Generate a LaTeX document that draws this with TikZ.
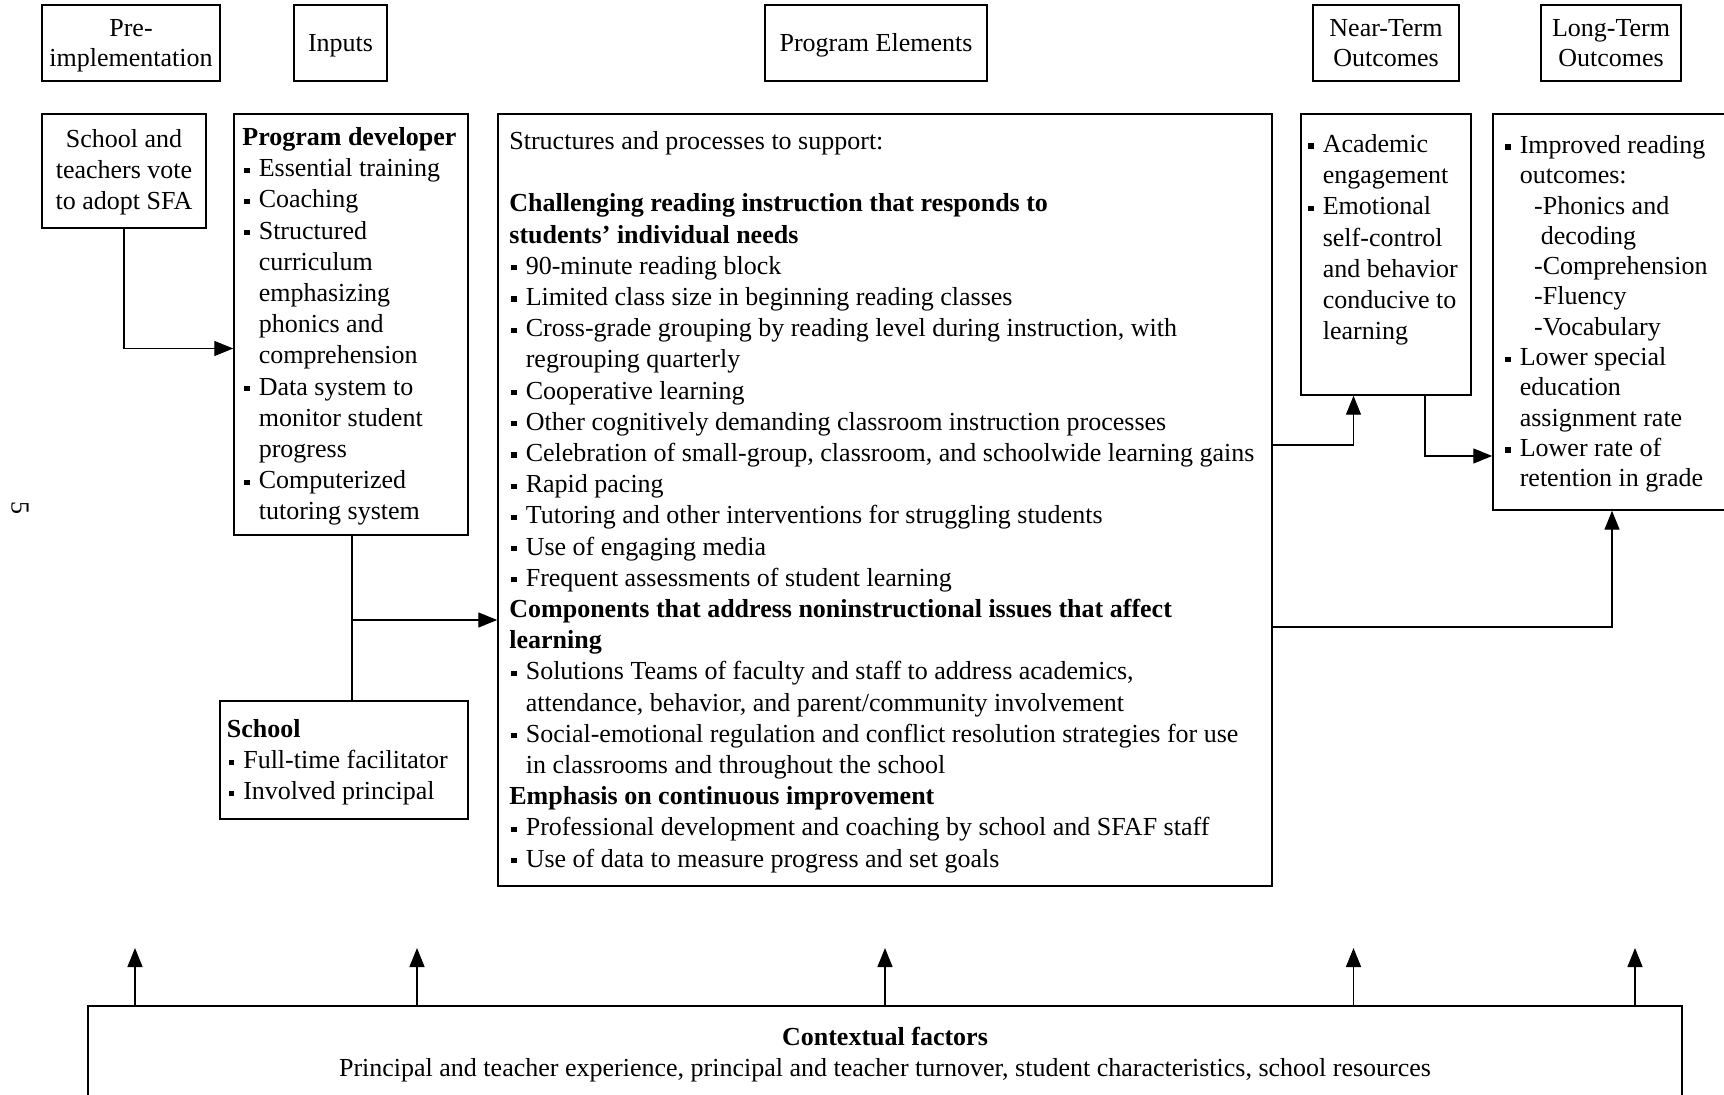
\documentclass[tikz,border=0pt]{standalone}
\usepackage{fontspec}
\setmainfont{Liberation Serif}
\usetikzlibrary{arrows.meta,fit}
\newcommand{\sq}{\hspace*{1pt}\makebox[7.2pt][l]{\raisebox{1.9pt}{\rule{2.6pt}{2.6pt}}}}
\newcommand{\ind}{\hspace*{8.2pt}}
\begin{document}
\begin{tikzpicture}[x=0.5pt,y=-0.5pt,
  box/.style={draw, line width=0.75pt, inner sep=0pt},
  hdr/.style={inner sep=0pt, font=\fontsize{13}{15}\selectfont, align=center},
  txt/.style={inner sep=0pt, font=\fontsize{13}{15.6}\selectfont, align=left, anchor=north west},
  arr/.style={line width=0.7pt, -{Triangle[length=9.5pt,width=7.5pt]}},
  ln/.style={line width=0.7pt}]
\useasboundingbox (0,0) rectangle (1724,1095);
\fill[white] (0,0) rectangle (1724,1095);
% headers
\node[box, fit={(42,5) (220,81)}] (hpre) {};
\node[box, fit={(294,5) (387,81)}] (hin) {};
\node[box, fit={(765,5) (987,81)}] (hpe) {};
\node[box, fit={(1313,5) (1459,81)}] (hnt) {};
\node[box, fit={(1541,5) (1681,81)}] (hlt) {};
\node[hdr] (hpreT) at ([yshift=-1.5pt]hpre.center) {\strut Pre-\\\strut implementation};
\node[hdr] (hinT) at ([yshift=-1.5pt]hin.center) {\strut Inputs};
\node[hdr] (hpeT) at ([yshift=-1.5pt]hpe.center) {\strut Program Elements};
\node[hdr] (hntT) at ([yshift=-1.5pt]hnt.center) {\strut Near-Term\\\strut Outcomes};
\node[hdr] (hltT) at ([yshift=-1.5pt]hlt.center) {\strut Long-Term\\\strut Outcomes};
% boxes
\node[box, fit={(42,114) (206,228)}] (vote) {};
\node[box, fit={(234,114) (468,535)}] (progdev) {};
\node[box, fit={(498,114) (1272,886)}] (main) {};
\node[box, fit={(1301,114) (1471,395)}] (near) {};
\node[box, fit={(1493,114) (1760,510)}] (long) {};
\node[box, fit={(220,701) (468,819)}] (school) {};
\node[box, fit={(88,1006) (1682,1130)}] (ctx) {};
% texts
\node[hdr, font=\fontsize{13}{15.6}\selectfont] (voteT) at ([yshift=-0.6pt]vote.center) {School and\\teachers vote\\to adopt SFA};
\node[txt] (progdevT) at (242,127) {\textbf{Program developer}\\
\sq Essential training\\
\sq Coaching\\
\sq Structured\\
\ind curriculum\\
\ind emphasizing\\
\ind phonics and\\
\ind comprehension\\
\sq Data system to\\
\ind monitor student\\
\ind progress\\
\sq Computerized\\
\ind tutoring system};
\node[txt] (mainT) at (509,131) {Structures and processes to support:\\[15.6pt]
\textbf{Challenging reading instruction that responds to}\\
\textbf{students’ individual needs}\\
\sq 90-minute reading block\\
\sq Limited class size in beginning reading classes\\
\sq Cross-grade grouping by reading level during instruction, with\\
\ind regrouping quarterly\\
\sq Cooperative learning\\
\sq Other cognitively demanding classroom instruction processes\\
\sq Celebration of small-group, classroom, and schoolwide learning gains\\
\sq Rapid pacing\\
\sq Tutoring and other interventions for struggling students\\
\sq Use of engaging media\\
\sq Frequent assessments of student learning\\
\textbf{Components that address noninstructional issues that affect}\\
\textbf{learning}\\
\sq Solutions Teams of faculty and staff to address academics,\\
\ind attendance, behavior, and parent/community involvement\\
\sq Social-emotional regulation and conflict resolution strategies for use\\
\ind in classrooms and throughout the school\\
\textbf{Emphasis on continuous improvement}\\
\sq Professional development and coaching by school and SFAF staff\\
\sq Use of data to measure progress and set goals};
\node[txt] (nearT) at (1306,134) {\sq Academic\\
\ind engagement\\
\sq Emotional\\
\ind self-control\\
\ind and behavior\\
\ind conducive to\\
\ind learning};
\node[txt, font=\fontsize{13}{15.15}\selectfont] (longT) at (1503,135) {\sq Improved reading\\
\ind outcomes:\\
\ind\hspace*{7.2pt}-Phonics and\\
\ind\hspace*{10.5pt}decoding\\
\ind\hspace*{7.2pt}-Comprehension\\
\ind\hspace*{7.2pt}-Fluency\\
\ind\hspace*{7.2pt}-Vocabulary\\
\sq Lower special\\
\ind education\\
\ind assignment rate\\
\sq Lower rate of\\
\ind retention in grade};
\node[txt] (schoolT) at (226.5,719) {\textbf{School}\\
\sq Full-time facilitator\\
\sq Involved principal};
\node[inner sep=0pt, font=\fontsize{13}{15.6}\selectfont, align=center] (ctxT) at (885,1055) {\textbf{Contextual factors}\\Principal and teacher experience, principal and teacher turnover, student characteristics, school resources};
\node[inner sep=0pt, font=\fontsize{13}{15.6}\selectfont, rotate=-90] (pg) at (20,508) {5};
% connectors
\draw[arr] (vote.south) |- ([yshift=-12pt]progdev.west);
\coordinate (br) at (352,620);
\draw[ln] (br |- progdev.south) -- (br |- school.north);
\draw[arr] (br) -- (br -| main.west);
\coordinate (c1) at (1353.5,445);
\draw[arr] (c1 -| main.east) -| (c1 |- near.south);
\coordinate (c2) at (1425,456);
\draw[arr] (c2 |- near.south) |- (c2 -| long.west);
\coordinate (c3) at (1612,627);
\draw[arr] (c3 -| main.east) -| (c3 |- long.south);
\foreach \n/\x in {t1/135,t2/417,t3/885,t4/1353.5,t5/1635}{
  \coordinate (\n) at (\x,948);
  \draw[arr] (\n |- ctx.north) -- (\n);
}
\end{tikzpicture}
\end{document}
